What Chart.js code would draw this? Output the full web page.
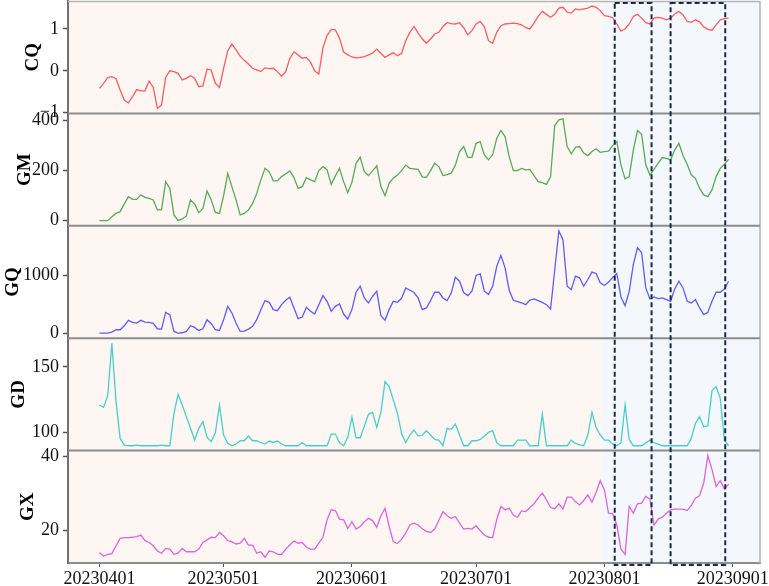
<!DOCTYPE html>
<html><head><meta charset="utf-8">
<script src="https://cdn.jsdelivr.net/npm/chart.js@4.4.0/dist/chart.umd.min.js"></script>
<style>html,body{margin:0;padding:0;background:#fff;}#wrap{width:769px;height:586px;}</style>
</head><body><div id="wrap"><canvas id="c" width="769" height="586"></canvas></div>
<script>
// x axis: day index from 2023-04-01
const tickDays = [0, 30, 61, 91, 122, 153];
const tickLabels = ['20230401', '20230501', '20230601', '20230701', '20230801', '20230901'];

const CQ = [-0.42,-0.30,-0.16,-0.14,-0.19,-0.46,-0.70,-0.77,-0.62,-0.45,
-0.48,-0.48,-0.25,-0.40,-0.90,-0.82,-0.16,0.0,-0.02,-0.06,
-0.22,-0.18,-0.12,-0.18,-0.38,-0.36,0.04,0.02,-0.30,-0.40,
0.06,0.48,0.64,0.50,0.35,0.25,0.16,0.06,0.02,-0.02,
0.07,0.05,0.06,-0.02,-0.13,-0.02,0.30,0.45,0.38,0.30,
0.32,0.20,0.0,-0.08,0.55,0.85,0.99,0.98,0.78,0.45,
0.38,0.33,0.31,0.32,0.34,0.38,0.42,0.52,
0.42,0.32,0.38,0.43,0.36,0.42,0.72,0.92,1.06,0.90,
0.76,0.66,0.76,0.88,0.92,1.06,1.15,1.13,1.12,1.15,
1.03,0.86,0.96,1.12,1.18,1.05,0.72,0.66,0.92,1.08,
1.12,1.13,1.14,1.13,1.10,1.03,1.0,1.14,1.30,1.42,
1.35,1.28,1.35,1.50,1.52,1.40,1.38,1.48,1.46,1.48,
1.50,1.55,1.52,1.44,1.32,1.30,1.27,1.12,0.95,1.0,
1.12,1.30,1.35,1.26,1.15,1.12,1.26,1.28,1.26,1.22,
1.26,1.36,1.42,1.34,1.18,1.16,1.22,1.17,1.05,0.99,
0.97,1.10,1.22,1.25,1.26];

const GM = [0,0,0,16,29,36,67,96,85,85,
103,93,89,83,43,43,156,129,23,0,
7,19,83,67,32,49,119,83,33,29,
100,189,136,83,23,29,43,69,109,163,
209,196,159,159,176,187,199,172,129,136,
172,163,156,200,216,203,145,179,209,156,
112,153,229,253,196,180,199,219,
136,100,150,170,182,200,222,209,207,205,
175,173,200,229,216,180,184,190,222,276,
296,253,253,309,316,263,243,263,329,360,
336,256,200,200,209,203,205,180,156,152,
145,176,380,403,407,296,267,293,296,270,
260,276,287,273,276,278,300,316,223,167,
176,283,360,345,223,183,205,230,252,249,
243,283,309,260,225,183,169,129,103,96,
123,176,209,225,245];

const GQ = [0,0,0,17,58,58,127,220,185,173,
220,191,185,168,75,69,358,318,29,0,
6,29,127,98,46,75,231,162,58,46,
231,462,347,173,29,35,69,116,231,405,
561,532,405,387,491,566,618,434,249,277,
445,376,329,491,647,549,376,462,503,329,
243,405,705,809,607,520,636,723,
300,220,405,549,532,600,780,740,700,607,
405,434,560,705,705,607,560,690,965,896,
700,647,723,994,1023,723,665,809,1156,1341,
1127,740,566,545,520,491,570,590,560,530,
491,416,1090,1763,1607,809,751,983,954,809,
925,1052,1029,867,821,880,960,1029,624,474,
720,1185,1474,1387,780,590,624,595,607,578,
549,763,896,780,549,520,578,434,318,358,
549,705,705,760,896];

const GD = [120.9,119.1,128.1,168.1,123.5,95.4,90.3,89.8,89.8,90.3,
89.8,89.8,89.8,89.8,89.8,90.3,89.8,89.8,114.5,129.1,
120.9,112,103.1,94.1,103.1,108.2,96.2,92.9,99.7,120.9,
98,91.6,89.8,91.1,93.6,93.6,97.2,93.6,93.6,92.1,
91.1,93.4,92.3,93.4,91.1,89.8,89.8,89.8,89.8,92.3,
89.8,89.8,89.8,89.8,89.8,89.8,98.7,98.7,92.1,89.8,
96.2,111.5,95.9,95.9,104.8,113.8,115.3,103.8,
115,138.8,134.9,124.7,114.5,99.2,92.3,98,101.8,97.2,
98,101.3,98,94.6,94.1,89.8,103.1,102.3,106.4,98,
89.8,89.8,93.6,93.6,94.6,97.2,100,101.3,92.1,89.8,
89.8,89.8,89.8,94.1,94.1,94.1,89.8,89.8,89.8,114,
89.8,89.8,89.8,89.8,89.8,89.8,94.1,91.6,90.5,89.8,
98,115.3,103.8,98,94.1,94.1,91.1,89.8,92.1,120.9,
94.6,89.8,89.8,89.8,92,94.1,92.1,91,89.8,89.8,
89.8,89.8,89.8,89.8,89.8,95.4,106.9,112,104.3,105.1,
131.9,134.9,126,94.1,89.8];

const GX = [14.05,13.15,13.6,13.8,15.9,17.9,18.1,18.1,18.2,18.4,
18.8,17.3,16.8,15.9,14.5,13.9,15.2,15.0,13.6,13.9,
15.2,14.3,14.3,14.3,15.0,16.8,17.5,18.2,18.1,19.5,
18.6,17.3,17.0,16.4,16.6,17.9,16.1,16.1,13.9,14.3,
12.8,14.5,14.3,13.6,13.6,15.0,16.1,17.2,16.6,16.8,
15.5,15.0,15.0,16.6,18.2,22.9,25.6,25.4,23.1,22.9,
20.6,22.4,20.4,21.1,22.4,23.3,22.7,20.9,
24.0,26.0,21.1,17.0,16.5,17.7,19.3,21.5,22.0,21.5,
20.5,19.8,19.5,20.4,22.8,25.1,24.0,23.3,23.8,22.0,
20.4,20.6,20.4,21.3,20.0,18.8,18.2,18.1,23.0,26.5,
25.6,26.0,24.2,23.6,25.3,25.1,26.2,27.2,28.8,30.1,
28.3,26.2,25.9,27.2,25.8,29.0,29.0,27.8,26.9,28.1,
29.6,27.6,30.3,33.4,31.0,24.7,24.6,21.5,15.0,13.6,
26.5,24.7,27.2,27.4,29.2,28.5,21.5,23.1,23.6,24.7,
25.6,25.8,25.8,25.8,25.4,26.8,28.7,29.4,32.8,40.2,
36.4,31.9,33.5,31.2,32.5];

const CQ_ticks = [-1, 0, 1];
const GM_ticks = [0, 200, 400];
const GQ_ticks = [0, 1000];
const GD_ticks = [100, 150];
const GX_ticks = [20, 40];

const CQ_range = [-1.02, 1.67];
const GM_range = [-20.4, 428.4];
const GQ_range = [-88, 1852];
const GD_range = [86.1, 171.9];
const GX_range = [11.27, 41.54];
const X_range = [-7.6, 159.6];

const splitDay = 121.3;
const boxDays = [[124.5, 133.4], [138, 151.2]];

const dayIndex = CQ.map((_, i) => i);

Chart.defaults.font.family = "'Liberation Serif','Times New Roman',serif";

const fmt = v => (v < 0 ? '\u2212' + Math.abs(v) : String(v));

function yAxis(name, range, ticks, titlePad) {
  return {
    type: 'linear', position: 'left', stack: 'panels', stackWeight: 1,
    min: range[0], max: range[1],
    afterBuildTicks: s => { s.ticks = ticks.map(v => ({ value: v })); },
    afterFit: s => { s.width = 68; s.paddingTop = 0; s.paddingBottom = 0; },
    grid: { drawOnChartArea: false, drawTicks: true, tickLength: 5, tickColor: '#555', tickWidth: 1.5 },
    border: { display: true, color: '#707070', width: 2 },
    ticks: { color: '#111', font: { size: 18 }, padding: 4, callback: v => fmt(v) },
    title: { display: true, text: name, color: '#000', font: { size: 19, weight: 'bold' }, padding: { top: titlePad, bottom: 0 } }
  };
}

const series = [
  { name: 'CQ', data: CQ, color: '#ff5c5c', axis: 'yCQ' },
  { name: 'GM', data: GM, color: '#58aa58', axis: 'yGM' },
  { name: 'GQ', data: GQ, color: '#5c5cff', axis: 'yGQ' },
  { name: 'GD', data: GD, color: '#48cfc8', axis: 'yGD' },
  { name: 'GX', data: GX, color: '#df62df', axis: 'yGX' }
];

const decor = {
  id: 'decor',
  beforeDraw(chart) {
    const { ctx, chartArea: a, scales } = chart;
    const sx = scales.x.getPixelForValue(splitDay);
    ctx.save();
    ctx.fillStyle = '#fdf6f2';
    ctx.fillRect(a.left, a.top, sx - a.left, a.bottom - a.top);
    ctx.fillStyle = '#f4f8fc';
    ctx.fillRect(sx, a.top, a.right - sx, a.bottom - a.top);
    ctx.restore();
  },
  beforeDatasetsDraw(chart) {
    const { ctx, chartArea: a, scales } = chart;
    ctx.save();
    ctx.strokeStyle = '#b4b4b4';
    ctx.lineWidth = 1.5;
    ctx.beginPath();
    ctx.moveTo(a.left, a.top + 0.5); ctx.lineTo(a.right, a.top + 0.5);
    ctx.moveTo(a.right, a.top); ctx.lineTo(a.right, a.bottom);
    ctx.stroke();
    ctx.strokeStyle = '#8c8c8c';
    ctx.lineWidth = 2;
    ['yCQ', 'yGM', 'yGQ', 'yGD'].forEach(id => {
      const y = scales[id].bottom;
      ctx.beginPath(); ctx.moveTo(a.left, y); ctx.lineTo(a.right, y); ctx.stroke();
    });
    ctx.restore();
  },
  afterDatasetsDraw(chart) {
    const { ctx, chartArea: a, scales } = chart;
    ctx.save();
    ctx.strokeStyle = '#1b2a4a';
    ctx.lineWidth = 2;
    ctx.setLineDash([5, 3]);
    boxDays.forEach(([d0, d1]) => {
      const x0 = scales.x.getPixelForValue(d0);
      const x1 = scales.x.getPixelForValue(d1);
      ctx.strokeRect(x0, a.top + 2, x1 - x0, a.bottom + 2 - (a.top + 2));
    });
    ctx.restore();
  }
};

new Chart(document.getElementById('c'), {
  type: 'line',
  data: {
    datasets: series.map(s => ({
      label: s.name,
      data: s.data.map((v, i) => ({ x: dayIndex[i], y: v })),
      borderColor: s.color, borderWidth: 1.3, pointRadius: 0, tension: 0, fill: false,
      yAxisID: s.axis
    }))
  },
  options: {
    responsive: false, animation: false,
    layout: { padding: { left: 0, right: 9, top: 1, bottom: 0 } },
    plugins: { legend: { display: false }, tooltip: { enabled: false } },
    scales: {
      x: {
        type: 'linear', position: 'bottom', min: X_range[0], max: X_range[1],
        afterBuildTicks: s => { s.ticks = tickDays.map(v => ({ value: v })); },
        afterFit: s => { s.height = 23; s.paddingLeft = 0; s.paddingRight = 0; },
        ticks: { callback: (v, i) => tickLabels[i], autoSkip: false, maxRotation: 0, font: { size: 18 }, color: '#111', padding: 1 },
        grid: { drawOnChartArea: false, tickLength: 4, tickColor: '#555' },
        border: { color: '#8c8c8c', width: 2 }
      },
      yGX: yAxis('GX', GX_range, GX_ticks, 17),
      yGD: yAxis('GD', GD_range, GD_ticks, 8),
      yGQ: yAxis('GQ', GQ_range, GQ_ticks, 1.5),
      yGM: yAxis('GM', GM_range, GM_ticks, 14),
      yCQ: yAxis('CQ', CQ_range, CQ_ticks, 21.5)
    }
  },
  plugins: [decor]
});
</script></body></html>
